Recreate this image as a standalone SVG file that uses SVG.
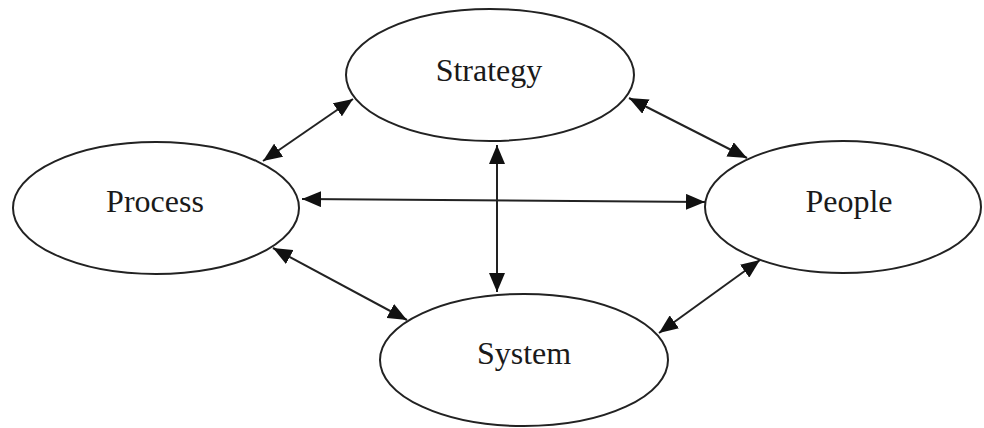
<svg xmlns="http://www.w3.org/2000/svg" width="984" height="428" viewBox="0 0 984 428">
<style>
.node ellipse{fill:#fff;stroke:#222;stroke-width:2}
.node text{font-family:"Liberation Serif","Times New Roman",serif;font-size:32px;fill:#1a1a1a;text-anchor:middle}
.conn line{stroke:#222;stroke-width:2;marker-start:url(#ah);marker-end:url(#ah)}
</style>
<defs>
<marker id="ah" markerUnits="userSpaceOnUse" markerWidth="20" markerHeight="16" refX="19" refY="8" orient="auto-start-reverse">
<path d="M0,0 L19,8 L0,16 z" fill="#111"/>
</marker>
</defs>
<rect width="984" height="428" fill="#fff"/>
<g id="strategy" class="node"><ellipse cx="490" cy="75" rx="144" ry="66"/><text x="489" y="81">Strategy</text></g>
<g id="process" class="node"><ellipse cx="156" cy="208" rx="143" ry="66"/><text x="155" y="212">Process</text></g>
<g id="people" class="node"><ellipse cx="843" cy="207" rx="138" ry="66"/><text x="849" y="212">People</text></g>
<g id="system" class="node"><ellipse cx="524" cy="360" rx="144" ry="66"/><text x="524" y="364">System</text></g>
<g id="connectors" class="conn">
<line x1="353" y1="99" x2="263" y2="161"/>
<line x1="629" y1="98" x2="747" y2="158"/>
<line x1="302" y1="199" x2="705" y2="202"/>
<line x1="497" y1="145" x2="497" y2="292"/>
<line x1="273" y1="248" x2="407" y2="320"/>
<line x1="760" y1="260" x2="659" y2="333"/>
</g>
</svg>
